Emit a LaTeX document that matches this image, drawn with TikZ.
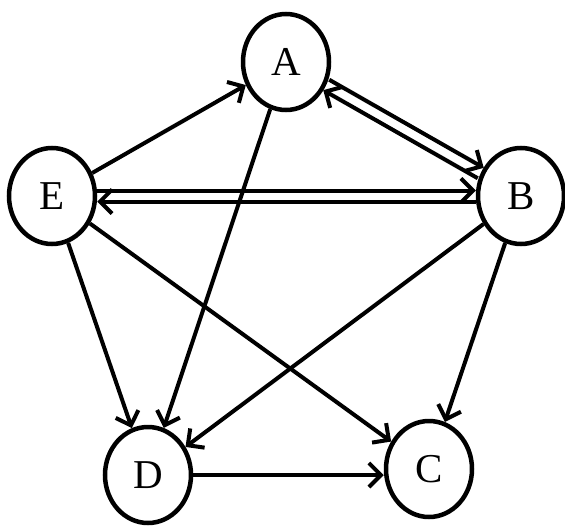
\documentclass[tikz,border=0pt]{standalone}
\usepackage{fontspec}
\setmainfont{Liberation Serif}
\usetikzlibrary{arrows.meta,shapes.geometric,calc}
\begin{document}
\begin{tikzpicture}[x=1pt,y=-1pt,
  vertex/.style={ellipse,draw,line width=4.5pt,fill=white,minimum width=86pt,minimum height=96pt,inner sep=0pt,font=\fontsize{41}{41}\selectfont},
  edge/.style={line width=4pt,-{Straight Barb[length=12pt,width=24pt,line width=4pt]}}]
\useasboundingbox (0,0) rectangle (565,525);
\fill[white] (0,0) rectangle (565,525);
\node[vertex] (A) at (286,62) {A};
\node[vertex] (B) at (521,196) {B};
\node[vertex] (C) at (429,469) {C};
\node[vertex] (D) at (148,475) {D};
\node[vertex] (E) at (52,196) {E};
% single arcs
\draw[edge] (E) -- (A);
\draw[edge] (A) -- (D);
\draw[edge] (E) -- (D);
\draw[edge] (E) -- (C);
\draw[edge] (B) -- (D);
\draw[edge] (B) -- (C);
\draw[edge] (D.east) -- (D.east -| C.west);
% paired arcs
\draw[edge,transform canvas={shift={(3,-5.2)}}] (A) -- (B);
\draw[edge,transform canvas={shift={(-3,5.2)}}] (B) -- (A);
\draw[edge] ([yshift=-5.5]B.west) -- ([yshift=-5.5]E.east);
\draw[edge] ([yshift=5.5]E.east) -- ([yshift=5.5]B.west);
\end{tikzpicture}
\end{document}
